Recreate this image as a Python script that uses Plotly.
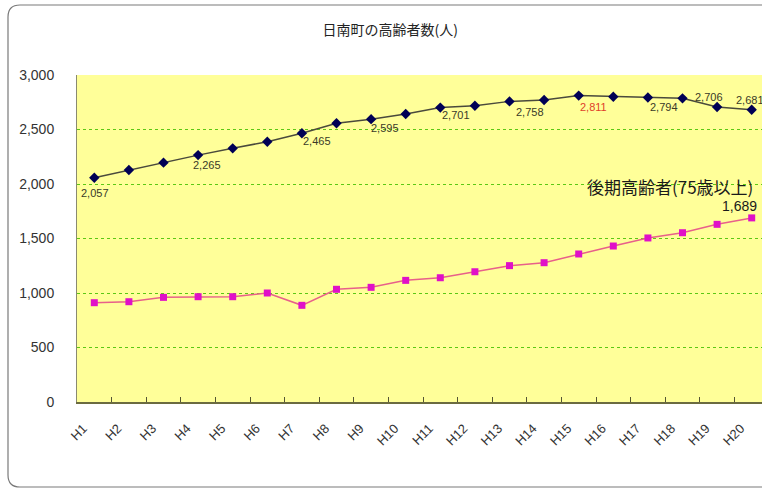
import plotly.graph_objects as go

# 日南町の高齢者数（人）: 高齢者総数 and 後期高齢者(75歳以上), H1–H20
years = ["H1", "H2", "H3", "H4", "H5", "H6", "H7", "H8", "H9", "H10",
         "H11", "H12", "H13", "H14", "H15", "H16", "H17", "H18", "H19", "H20"]
elderly_total = [2057, 2128, 2196, 2265, 2327, 2388, 2465, 2557, 2595, 2642,
                 2701, 2718, 2758, 2771, 2811, 2801, 2794, 2786, 2706, 2681]
late_elderly = [911, 920, 960, 966, 966, 1000, 887, 1034, 1052, 1116,
                1140, 1195, 1251, 1278, 1358, 1431, 1505, 1553, 1630, 1689]

# years whose total is written next to the marker
labelled_years = ["H1", "H4", "H7", "H9", "H11", "H13", "H15", "H17", "H19", "H20"]
peak_year = "H15"
y_ticks = [0, 500, 1000, 1500, 2000, 2500, 3000]
series_note = "後期高齢者(75歳以上)"
title_text = "日南町の高齢者数(人)"

W, H = 762, 490
M_L, M_T, M_R, M_B = 77, 75, 0, 88
PW, PH = W - M_L - M_R, H - M_T - M_B
STEP = 34.6  # px per category

# per-label offsets (px) of total labels from their marker
label_shift = {"H1": (1, -15), "H4": (9, -10), "H7": (15, -8), "H9": (14, -9),
               "H11": (16, -7), "H13": (20, -11), "H15": (15, -11), "H17": (16, -10),
               "H19": (-8, 10), "H20": (-2, 10)}

FONT = "Liberation Sans, Arial, sans-serif"
JFONT = "Noto Sans CJK JP, sans-serif"

fig = go.Figure()

fig.add_trace(go.Scatter(
    x=years, y=elderly_total, mode="lines+markers",
    line=dict(color="#4a4a3c", width=1.5),
    marker=dict(symbol="diamond", size=8, color="#000055"),
    hoverinfo="x+y", showlegend=False, cliponaxis=False))

fig.add_trace(go.Scatter(
    x=years, y=late_elderly, mode="lines+markers",
    line=dict(color="#e8608a", width=1.5),
    marker=dict(symbol="square", size=7, color="#e010c8"),
    hoverinfo="x+y", showlegend=False, cliponaxis=False))

annotations = []
for yr in labelled_years:
    v = elderly_total[years.index(yr)]
    dx, dy = label_shift[yr]
    annotations.append(dict(
        x=yr, y=v, xref="x", yref="y", text=f"{v:,}", showarrow=False,
        xshift=dx, yshift=dy,
        font=dict(family=FONT, size=11,
                  color="#e0402a" if yr == peak_year else "#3a3a28")))

last = late_elderly[-1]
annotations.append(dict(
    x=years[-1], y=last, xref="x", yref="y", text=f"{last:,}", showarrow=False,
    xshift=-12, yshift=12, font=dict(family=FONT, size=14, color="#1a1a1a")))
annotations.append(dict(
    x=years[-1], y=last, xref="x", yref="y", text=series_note, showarrow=False,
    xanchor="right", xshift=3, yshift=31,
    font=dict(family=JFONT, size=17, color="#1a1a1a")))

# rounded chart frame in paper units
def px_x(p):
    return (p - M_L) / PW

def px_y(p):
    return (H - M_B - p) / PH

x0, x1, y0, y1, r = 8, 775, 5, 487, 12
rx, ry = r / PW, r / PH
frame = (f"M {px_x(x0)+rx},{px_y(y0)} L {px_x(x1)-rx},{px_y(y0)} "
         f"Q {px_x(x1)},{px_y(y0)} {px_x(x1)},{px_y(y0)-ry} "
         f"L {px_x(x1)},{px_y(y1)+ry} Q {px_x(x1)},{px_y(y1)} {px_x(x1)-rx},{px_y(y1)} "
         f"L {px_x(x0)+rx},{px_y(y1)} Q {px_x(x0)},{px_y(y1)} {px_x(x0)},{px_y(y1)+ry} "
         f"L {px_x(x0)},{px_y(y0)-ry} Q {px_x(x0)},{px_y(y0)} {px_x(x0)+rx},{px_y(y0)} Z")

fig.add_shape(type="path", path=frame, xref="paper", yref="paper",
              line=dict(color="#7a7a7a", width=1.2), layer="below")

x_right = -0.5 + PW / STEP

fig.update_layout(
    width=W, height=H,
    margin=dict(l=M_L, r=M_R, t=M_T, b=M_B),
    paper_bgcolor="white", plot_bgcolor="#FFFF99",
    title=dict(text=title_text, x=0.512, xanchor="center", y=1 - 30 / H,
               yanchor="middle", font=dict(family=JFONT, size=14, color="#222222")),
    annotations=annotations,
    xaxis=dict(type="category", range=[-0.5, x_right], tickangle=-45,
               tickson="boundaries", ticks="inside", ticklen=5, tickcolor="#555533",
               showgrid=False, showline=True, linecolor="#6b6b40", linewidth=1.5,
               tickfont=dict(family=FONT, size=13, color="#333333"),
               ticklabelstandoff=12, ticklabelshift=-11, fixedrange=True),
    yaxis=dict(range=[0, 3000], tickvals=y_ticks, tickformat=",",
               showgrid=True, gridcolor="#5cc814", griddash="dot", gridwidth=1.3,
               zeroline=False, showline=True, linecolor="#8a8a70", linewidth=1,
               mirror=True, ticks="", ticklabelstandoff=19,
               tickfont=dict(family=FONT, size=14, color="#333333"),
               fixedrange=True),
)

fig.write_html("out.html")
